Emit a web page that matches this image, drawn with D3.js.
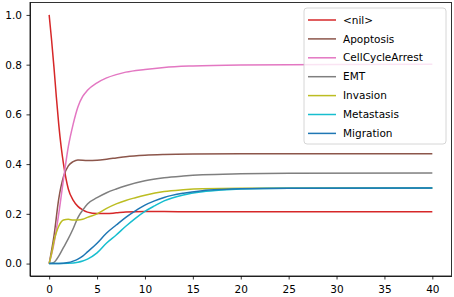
<!DOCTYPE html>
<html>
<head>
<meta charset="utf-8">
<script src="https://cdn.jsdelivr.net/npm/d3@7"></script>
<style>
  body { margin: 0; background: #fff; }
  svg text { font-family: "DejaVu Sans", sans-serif; fill: #000; }
  .axis path, .axis line { stroke: #000; stroke-width: 0.8; }
</style>
</head>
<body>
<div id="chart"></div>
<script>

// series names and colours (matplotlib tab10 order)
var names = ["<nil>", "Apoptosis", "CellCycleArrest", "EMT", "Invasion", "Metastasis", "Migration"]
var colors = ["#d62728", "#8c564b", "#e377c2", "#7f7f7f", "#bcbd22", "#17becf", "#1f77b4"]

// values, [time, value]
var nil_data = [[0,1.0],[0.25,0.9],[0.5,0.79],[0.75,0.67],[1,0.56],[1.25,0.47],[1.5,0.40],[2,0.30],[2.5,0.255],
    [3,0.23],[3.5,0.216],[4,0.207],[5,0.201],[6,0.201],[7,0.204],[8,0.207],[10,0.209],[12,0.209],[15,0.208],[20,0.208],[30,0.208],[40,0.208]]
var apoptosis_data = [[0,0],[0.5,0.11],[1,0.26],[1.5,0.35],[2,0.393],[2.5,0.41],[3,0.417],[4,0.415],[5,0.416],
    [6,0.42],[7,0.425],[8,0.43],[10,0.436],[12,0.439],[15,0.441],[20,0.442],[30,0.442],[40,0.442]]
var cellcycle_data = [[0,0],[0.5,0.08],[1,0.2],[1.5,0.34],[2,0.47],[2.5,0.56],[3,0.63],[3.5,0.672],[4,0.697],
    [5,0.727],[6,0.747],[7,0.76],[8,0.77],[10,0.781],[12,0.789],[15,0.795],[20,0.799],[30,0.801],[40,0.802]]
var emt_data = [[0,0],[0.5,0.005],[1,0.03],[1.5,0.065],[2,0.1],[2.5,0.14],[3,0.185],[3.5,0.215],[4,0.24],
    [5,0.265],[6,0.285],[7,0.3],[8,0.313],[10,0.333],[12,0.345],[14,0.352],[16,0.357],[20,0.361],[25,0.363],[40,0.364]]
var invasion_data = [[0,0],[0.25,0.04],[0.5,0.09],[0.75,0.125],[1,0.15],[1.25,0.167],[1.5,0.175],[2,0.178],[2.5,0.175],
    [3,0.175],[3.5,0.178],[4,0.186],[5,0.2],[6,0.222],[7,0.24],[8,0.254],[9,0.265],[10,0.275],[12,0.29],[14,0.297],
    [16,0.301],[20,0.303],[40,0.304]]
var metastasis_data = [[0,0],[2,0.001],[3,0.005],[3.5,0.01],[4,0.018],[5,0.043],[6,0.083],[7,0.115],[8,0.15],
    [9,0.182],[10,0.21],[11,0.232],[12,0.252],[14,0.276],[16,0.289],[18,0.296],[20,0.3],[25,0.303],[40,0.304]]
var migration_data = [[0,0],[1,0],[2,0.004],[2.5,0.01],[3,0.018],[3.5,0.03],[4,0.047],[5,0.082],[6,0.123],
    [7,0.155],[8,0.186],[9,0.212],[10,0.235],[11,0.252],[12,0.266],[14,0.283],[16,0.293],[18,0.298],[20,0.301],[25,0.303],[40,0.304]]

var all_series = [nil_data, apoptosis_data, cellcycle_data, emt_data, invasion_data, metastasis_data, migration_data]

// tick values
var x_ticks = [0, 5, 10, 15, 20, 25, 30, 35, 40]
var y_ticks = [0.0, 0.2, 0.4, 0.6, 0.8, 1.0]

// define parameters of the chart
var margin = {top: 2.5, right: 2.5, bottom: 21, left: 30},
    width = 454 - margin.left - margin.right,
    height = 297 - margin.top - margin.bottom;

var svg = d3.select("#chart").append("svg")
    .attr("width", 454)
    .attr("height", 297)
  .append("g")
    .attr("transform", "translate(" + margin.left + "," + margin.top + ")");

// scales with matplotlib style 5% margins
var x = d3.scaleLinear().domain([-2, 42]).range([0, width]);
var y = d3.scaleLinear().domain([-0.05, 1.05]).range([height, 0]);

var line = d3.line()
    .x(function(d) { return x(d[0]); })
    .y(function(d) { return y(d[1]); })
    .curve(d3.curveMonotoneX);

// draw the lines
svg.selectAll(".series")
    .data(all_series)
  .enter().append("path")
    .attr("class", "series")
    .attr("d", line)
    .style("fill", "none")
    .style("stroke", function(d, i) { return colors[i]; })
    .style("stroke-width", 1.5);

// axes
svg.append("g")
    .attr("class", "axis")
    .attr("transform", "translate(0," + height + ")")
    .call(d3.axisBottom(x).tickValues(x_ticks).tickSize(3.5).tickPadding(6).tickSizeOuter(0))
    .selectAll("text").style("font-size", "10.5px");

svg.append("g")
    .attr("class", "axis")
    .call(d3.axisLeft(y).tickValues(y_ticks).tickFormat(d3.format(".1f")).tickSize(3.5).tickPadding(4.5).tickSizeOuter(0))
    .selectAll("text").style("font-size", "10.5px");

// frame
svg.append("rect")
    .attr("width", width)
    .attr("height", height)
    .style("fill", "none")
    .style("stroke", "#000")
    .style("stroke-width", 0.8);

// legend
var legend = svg.append("g")
    .attr("transform", "translate(" + (304 - margin.left) + "," + (8 - margin.top) + ")");

legend.append("rect")
    .attr("width", 142)
    .attr("height", 136)
    .attr("rx", 3)
    .style("fill", "#fff")
    .style("fill-opacity", 0.8)
    .style("stroke", "#cccccc")
    .style("stroke-width", 0.8);

var entries = legend.selectAll(".entry")
    .data(names)
  .enter().append("g")
    .attr("class", "entry")
    .attr("transform", function(d, i) { return "translate(0," + (12 + i * 18.9) + ")"; });

entries.append("line")
    .attr("x1", 4).attr("x2", 32)
    .style("stroke", function(d, i) { return colors[i]; })
    .style("stroke-width", 1.5);

entries.append("text")
    .attr("x", 39)
    .attr("dy", "0.35em")
    .style("font-size", "10.5px")
    .text(function(d) { return d; });

</script>
</body>
</html>
